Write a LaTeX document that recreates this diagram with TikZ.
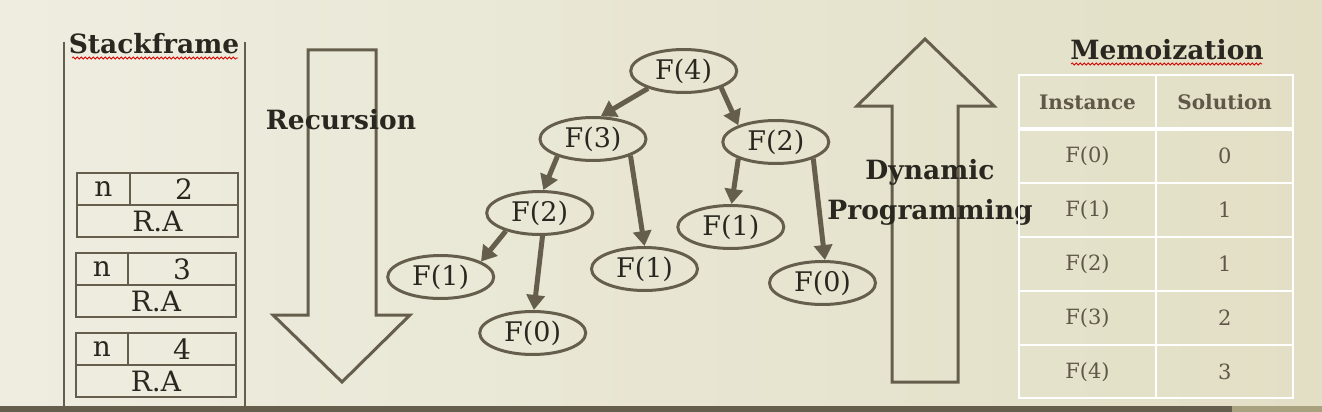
\documentclass[tikz,border=0pt]{standalone}
\usepackage{fontspec}
\setmainfont{DejaVu Serif}
\usetikzlibrary{shapes.geometric,arrows.meta,decorations.pathmorphing}
\definecolor{frame}{RGB}{102,94,77}
\definecolor{ink}{RGB}{42,39,32}
\definecolor{tabink}{RGB}{95,87,71}
\definecolor{bgleft}{RGB}{238,237,224}
\definecolor{bgright}{RGB}{226,223,197}
\definecolor{barlight}{RGB}{169,162,127}

\begin{document}
\begin{tikzpicture}[x=1pt,y=-1pt,
  call/.style={draw=frame,line width=3pt,ellipse,minimum width=106pt,minimum height=43pt,inner sep=0pt,text=ink,font=\fontsize{27}{30}\selectfont},
  arr/.style={draw=frame,line width=5pt,-{Triangle[length=15pt,width=18pt]}},
  cell/.style={draw=frame,line width=2pt,minimum height=32pt,inner sep=0pt,text=ink,font=\fontsize{28}{30}\selectfont},
  bigarrow/.style={draw=frame,line width=3pt,line join=miter},
  title/.style={text=ink,font=\bfseries\fontsize{26.5}{40}\selectfont,align=center},
  tab/.style={text=tabink,font=\fontsize{21}{24}\selectfont},
  tabhead/.style={text=tabink,font=\bfseries\fontsize{20}{24}\selectfont},
  grid/.style={draw=white,line width=1.5pt},
  spell/.style={draw=red!85!black,line width=0.8pt,decorate,decoration={snake,amplitude=1pt,segment length=4pt}}]
\useasboundingbox (0,0) rectangle (1322,412);
% slide background and footer bar
\shade[left color=bgleft,right color=bgright] (0,0) rectangle (1322,412);
\fill[frame] (0,406) rectangle (1232,412);
\fill[barlight] (1232,406) rectangle (1322,412);
% stack frame
\node[title] (stack) at (154,44) {Stackframe};
\draw[spell] (72,58) -- (238,58);
\draw[frame,line width=2pt] (64,42) -- (64,406);
\draw[frame,line width=2pt] (245,42) -- (245,406);
\node[cell,minimum width=53pt]  (n2)  at (103.5,189) {n};
\node[cell,minimum width=108pt] (v2)  at (184,189)   {2};
\node[cell,minimum width=161pt] (ra2) at (157.5,221) {R.A};
\node[cell,minimum width=52pt]  (n3)  at (102,269)   {n};
\node[cell,minimum width=108pt] (v3)  at (182,269)   {3};
\node[cell,minimum width=160pt] (ra3) at (156,301)   {R.A};
\node[cell,minimum width=52pt]  (n4)  at (102,349)   {n};
\node[cell,minimum width=108pt] (v4)  at (182,349)   {4};
\node[cell,minimum width=160pt] (ra4) at (156,381)   {R.A};
% recursion arrow (down)
\draw[bigarrow] (308,50) -- (376,50) -- (376,315) -- (410,315) -- (342,382)
  -- (273,315) -- (308,315) -- cycle;
\node[title] (rec) at (341,120) {Recursion};
% call tree
\node[call] (f4)  at (683.7,71)  {F(4)};
\node[call] (f3)  at (593,139)   {F(3)};
\node[call] (f2r) at (775.8,142) {F(2)};
\node[call] (f2l) at (539.7,213) {F(2)};
\node[call] (f1r) at (730.8,227) {F(1)};
\node[call] (f1m) at (644.5,269) {F(1)};
\node[call] (f1l) at (440.7,277) {F(1)};
\node[call] (f0r) at (822.5,283) {F(0)};
\node[call] (f0l) at (532.7,333) {F(0)};
\draw[arr] (f4.206)  -- (f3.71);
\draw[arr] (f4.336)  -- (f2r.156);
\draw[arr] (f3.206)  -- (f2l.81);
\draw[arr] (f3.336)  -- (f1m.90);
\draw[arr] (f2l.208) -- (f1l.21);
\draw[arr] (f2l.277) -- (f0l.87);
\draw[arr] (f2r.204) -- (f1r.88);
\draw[arr] (f2r.336) -- (f0r.84);
% dynamic programming arrow (up)
\draw[bigarrow] (892,382) -- (892,106) -- (857,106) -- (925,39) -- (994,106)
  -- (958,106) -- (958,382) -- cycle;
\node[title] (dp) at (930,192) {Dynamic\\Programming};
% memo table
\node[title] (memo) at (1167,50) {Memoization};
\draw[spell] (1071,64) -- (1262,64);
\draw[grid] (1019,75) rectangle (1293,398);
\draw[grid] (1156,75) -- (1156,398);
\draw[grid,line width=4pt] (1019,129) -- (1293,129);
\draw[grid] (1019,183) -- (1293,183);
\draw[grid] (1019,237) -- (1293,237);
\draw[grid] (1019,291) -- (1293,291);
\draw[grid] (1019,345) -- (1293,345);
\node[tabhead] (inst) at (1087.5,102) {Instance};
\node[tabhead] (sol)  at (1224.7,102) {Solution};
\node[tab] (i0) at (1087.5,156) {F(0)}; \node[tab] (s0) at (1224.7,156) {0};
\node[tab] (i1) at (1087.5,210) {F(1)}; \node[tab] (s1) at (1224.7,210) {1};
\node[tab] (i2) at (1087.5,264) {F(2)}; \node[tab] (s2) at (1224.7,264) {1};
\node[tab] (i3) at (1087.5,318) {F(3)}; \node[tab] (s3) at (1224.7,318) {2};
\node[tab] (i4) at (1087.5,372) {F(4)}; \node[tab] (s4) at (1224.7,372) {3};
\end{tikzpicture}
\end{document}
